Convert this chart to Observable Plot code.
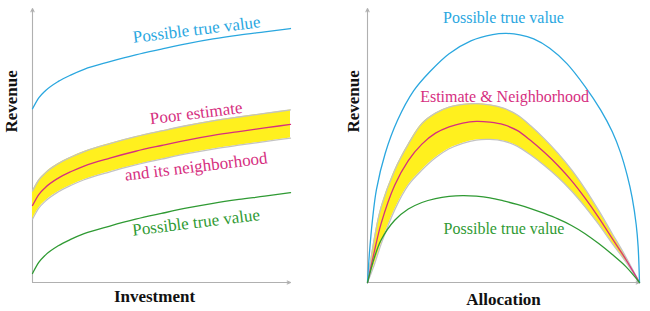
<!DOCTYPE html>
<html>
<head>
<meta charset="utf-8">
<script src="https://cdn.jsdelivr.net/npm/d3@7"></script>
<script src="https://cdn.jsdelivr.net/npm/@observablehq/plot@0.6"></script>
<style>
  html, body { margin: 0; padding: 0; background: #fff; }
  #wrap { display: flex; width: 650px; height: 311px; }
  #wrap svg, #wrap svg text { font-family: "Liberation Serif", "Times New Roman", serif; }
</style>
</head>
<body>
<div id="wrap"></div>
<script>
// ---------- Left panel: Investment vs Revenue ----------
const leftX          = [0, 0.25, 0.5, 1, 1.5, 2, 3, 4, 5, 6, 7, 8, 9, 10];
const leftTrueHigh   = [6.34, 6.75, 7.0, 7.34, 7.58, 7.78, 8.06, 8.31, 8.52, 8.72, 8.89, 9.03, 9.15, 9.27];
const leftEstimate   = [2.81, 3.22, 3.47, 3.81, 4.05, 4.25, 4.54, 4.79, 5.0, 5.2, 5.37, 5.51, 5.64, 5.77];
const leftUpper      = [3.34, 3.75, 4.0, 4.34, 4.58, 4.78, 5.07, 5.32, 5.53, 5.73, 5.9, 6.04, 6.17, 6.3];
const leftLower      = [2.31, 2.72, 2.97, 3.31, 3.55, 3.75, 4.04, 4.29, 4.5, 4.7, 4.87, 5.01, 5.14, 5.27];
const leftTrueLow    = [0.33, 0.74, 1.0, 1.34, 1.58, 1.78, 2.06, 2.31, 2.52, 2.72, 2.89, 3.03, 3.15, 3.28];

// ---------- Right panel: Allocation vs Revenue ----------
const rightHighX     = [0, 0.07, 0.18, 0.33, 0.65, 1.1, 1.7, 2.3, 3.0, 3.8, 4.6, 5.1, 5.6, 6.11, 6.7, 7.34, 8.0, 8.57, 9.0, 9.3, 9.55, 9.73, 9.88, 9.95, 10];
const rightTrueHigh  = [0, 1.06, 2.26, 3.4, 4.71, 5.91, 7.0, 7.7, 8.35, 8.82, 9.05, 9.09, 9.04, 8.89, 8.55, 7.98, 7.15, 6.3, 5.5, 4.75, 3.9, 3.1, 2.1, 1.3, 0];
const rightX         = [0, 0.25, 0.5, 1, 1.5, 2, 2.5, 3, 3.5, 4, 4.5, 5, 5.5, 6, 6.5, 7, 7.5, 8, 8.5, 9, 9.5, 10];
const rightEstimate  = [0, 1.12, 2.15, 3.55, 4.45, 5.05, 5.45, 5.68, 5.82, 5.88, 5.85, 5.76, 5.55, 5.18, 4.75, 4.27, 3.72, 3.08, 2.37, 1.6, 0.84, 0];
const rightUpper     = [0, 1.6, 2.75, 4.1, 5.05, 5.8, 6.18, 6.4, 6.5, 6.53, 6.48, 6.36, 6.12, 5.72, 5.25, 4.72, 4.12, 3.42, 2.63, 1.78, 0.93, 0];
const rightLower     = [0, 0.65, 1.4, 2.65, 3.55, 4.1, 4.55, 4.88, 5.08, 5.2, 5.22, 5.16, 4.98, 4.65, 4.27, 3.84, 3.34, 2.76, 2.12, 1.42, 0.75, 0];
const rightTrueLow   = [0, 0.9, 1.55, 2.27, 2.68, 2.92, 3.06, 3.14, 3.17, 3.15, 3.09, 2.98, 2.85, 2.7, 2.52, 2.32, 2.08, 1.78, 1.42, 1.02, 0.58, 0];

// ---------- Labels ----------
const leftLabels = [
  {text: "Possible true value", x: 6.36, y: 9.23, kind: "high"},
  {text: "Poor estimate", x: 6.34, y: 6.18, kind: "est"},
  {text: "and its neighborhood", x: 6.34, y: 4.23, kind: "est"},
  {text: "Possible true value", x: 6.34, y: 2.19, kind: "low"}
];
const rightLabels = [
  {text: "Possible true value", x: 5.0, y: 9.65, kind: "high"},
  {text: "Estimate & Neighborhood", x: 5.04, y: 6.79, kind: "est"},
  {text: "Possible true value", x: 5.02, y: 1.97, kind: "low"}
];
const xTitles = ["Investment", "Allocation"];
const yTitle = "Revenue";
const axisEnds = [{x1: 0, y1: 0, x2: 0, y2: 10}, {x1: 0, y1: 0, x2: 10, y2: 0}];

// ---------- Styles ----------
const C = {high: "#2aa7df", est: "#d62f7f", low: "#2f9a33", band: "#fff01e", edge: "#c3c3c3", axis: "#b0b0b0"};
const FONT = "Liberation Serif";

function panel({rows, highRows, labels, title, marginLeft, marginRight, curve, labelSize, rotate, titleDx, titleDy, revDx}) {
  return Plot.plot({
    width: 325, height: 311,
    marginLeft, marginRight, marginTop: 8, marginBottom: 29,
    x: {domain: [0, 10], axis: null},
    y: {domain: [0, 10], axis: null},
    style: {background: "white", overflow: "visible"},
    marks: [
      Plot.arrow(axisEnds, {x1: "x1", y1: "y1", x2: "x2", y2: "y2", stroke: C.axis, strokeWidth: 1.1, headLength: 5, headAngle: 50}),
      Plot.areaY(rows, {x: "x", y1: "lo", y2: "up", fill: C.band, curve}),
      Plot.lineY(rows, {x: "x", y: "up", stroke: C.edge, strokeWidth: 1.3, curve}),
      Plot.lineY(rows, {x: "x", y: "lo", stroke: C.edge, strokeWidth: 1.3, curve}),
      Plot.lineY(rows, {x: "x", y: "est", stroke: C.est, strokeWidth: 1.3, curve}),
      Plot.lineY(highRows, {x: "x", y: "y", stroke: C.high, strokeWidth: 1.3, curve}),
      Plot.lineY(rows, {x: "x", y: "low", stroke: C.low, strokeWidth: 1.3, curve}),
      Plot.text(labels, {x: "x", y: "y", text: "text", fill: d => C[d.kind], fontFamily: FONT, fontSize: labelSize, rotate, lineAnchor: "middle", textAnchor: "middle"}),
      Plot.text([title], {frameAnchor: "bottom", dx: titleDx, dy: titleDy, fontFamily: FONT, fontSize: 17, fontWeight: "bold", fill: "#111", lineAnchor: "middle"}),
      Plot.text([yTitle], {frameAnchor: "left", dx: revDx, dy: -13, rotate: -90, fontFamily: FONT, fontSize: 17, fontWeight: "bold", fill: "#111", lineAnchor: "middle"})
    ]
  });
}

const leftRows = leftX.map((x, i) => ({x, est: leftEstimate[i], up: leftUpper[i], lo: leftLower[i], low: leftTrueLow[i]}));
const leftHigh = leftX.map((x, i) => ({x, y: leftTrueHigh[i]}));
const rightRows = rightX.map((x, i) => ({x, est: rightEstimate[i], up: rightUpper[i], lo: rightLower[i], low: rightTrueLow[i]}));
const rightHigh = rightHighX.map((x, i) => ({x, y: rightTrueHigh[i]}));

const wrap = document.getElementById("wrap");
wrap.append(panel({rows: leftRows, highRows: leftHigh, labels: leftLabels, title: xTitles[0],
  marginLeft: 32, marginRight: 35, curve: "monotone-x", labelSize: 17, rotate: -7, titleDx: -7, titleDy: 14, revDx: -21}));
wrap.append(panel({rows: rightRows, highRows: rightHigh, labels: rightLabels, title: xTitles[1],
  marginLeft: 42, marginRight: 11, curve: "catmull-rom", labelSize: 16, rotate: 0, titleDx: 0, titleDy: 17, revDx: -14}));
</script>
</body>
</html>
